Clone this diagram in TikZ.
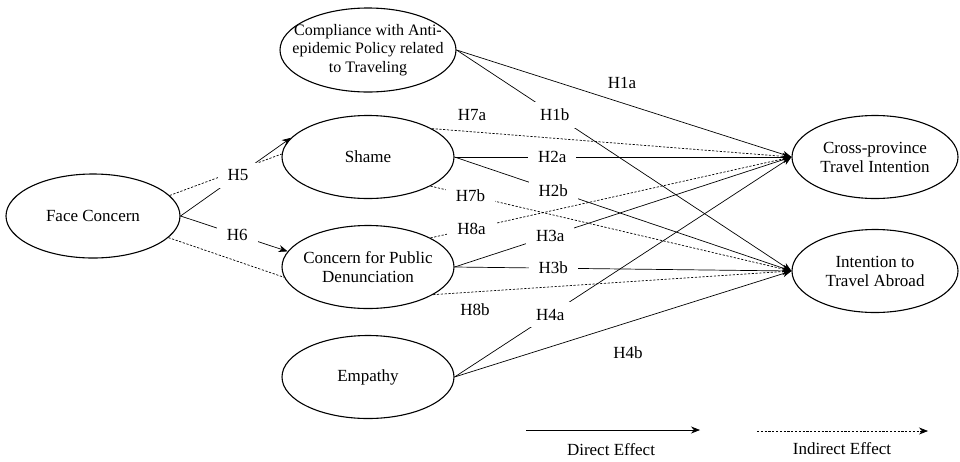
\documentclass[tikz,border=0pt]{standalone}
\usepackage{fontspec}
\setmainfont{Liberation Serif}
\usetikzlibrary{shapes.geometric,arrows.meta}
\newcommand\lfs{\fontsize{17}{19}\selectfont}
\newcommand\sfs{\fontsize{16}{18.5}\selectfont}
\begin{document}
\begin{tikzpicture}[x=1pt,y=-1pt,
 lat/.style={draw, ellipse, line width=1.1pt, minimum width=172pt, minimum height=83pt, inner sep=0pt},
 txt/.style={align=center, font=\lfs, inner sep=0pt},
 hyp/.style={font=\lfs, inner sep=0pt},
 gap/.style={font=\lfs, fill=white, inner xsep=10pt, inner ysep=7pt},
 direct/.style={line width=0.7pt, -{Stealth[length=9pt,width=7pt]}},
 indirect/.style={line width=0.7pt, dash pattern=on 2.2pt off 1.6pt},
 indarrow/.style={indirect, -{Stealth[length=9pt,width=7pt]}}]
\useasboundingbox (0,0) rectangle (960,461);

% latent variables
\node[lat, minimum width=174pt, minimum height=84pt] (fc) at (93,216) {};
\node[txt] (fct) at (fc) {Face Concern};
\node[lat, minimum width=176pt, minimum height=84pt] (comp) at (368,50) {};
\node[txt, font=\sfs] (compt) at (comp) {Compliance with Anti-\\epidemic Policy related\\to Traveling};
\node[lat] (shame) at (368,157) {};
\node[txt] (shamet) at (shame) {Shame};
\node[lat] (cpd) at (368,267) {};
\node[txt] (cpdt) at (cpd) {Concern for Public\\Denunciation};
\node[lat] (emp) at (368,377) {};
\node[txt] (empt) at (emp) {Empathy};
\node[lat, minimum width=166pt] (cross) at (875,157) {};
\node[txt] (crosst) at (cross) {Cross-province\\Travel Intention};
\node[lat, minimum width=166pt] (intent) at (875,271) {};
\node[txt] (intentt) at (intent) {Intention to\\Travel Abroad};

% Face concern
\draw[indirect] (fc.15) -- (shame.178);
\draw[indirect] (fc.-16) -- (cpd.187);
\draw[direct] (fc.east) -- node[gap,pos=0.52] (h5) {H5} (shame.166);
\draw[direct] (fc.east) -- node[gap,pos=0.53] (h6) {H6} (cpd.169);

% Compliance
\draw[direct] (comp.east) -- (cross.west);
\node[hyp] (h1a) at (622,83) {H1a};
\draw[direct] (comp.east) -- node[gap,pos=0.293] (h1b) {H1b} (intent.west);

% Shame
\draw[direct] (shame.east) -- node[gap,pos=0.29] (h2a) {H2a} (cross.west);
\draw[direct] (shame.east) -- node[gap,pos=0.293] (h2b) {H2b} (intent.west);
\draw[indarrow] (shame.24) -- (cross.west);
\node[hyp] (h7a) at (472,115) {H7a};
\draw[indarrow] (shame.-25) -- node[gap,pos=0.111] (h7b) {H7b} (intent.west);

% Concern for public denunciation
\draw[indarrow] (cpd.25) -- node[gap,pos=0.114] (h8a) {H8a} (cross.west);
\draw[direct] (cpd.east) -- node[gap,pos=0.284] (h3a) {H3a} (cross.west);
\draw[direct] (cpd.east) -- node[gap,pos=0.293] (h3b) {H3b} (intent.west);
\draw[indarrow] (cpd.-23) -- (intent.west);
\node[hyp] (h8b) at (475,310) {H8b};

% Empathy
\draw[direct] (emp.east) -- node[gap,pos=0.284] (h4a) {H4a} (cross.west);
\draw[direct] (emp.east) -- (intent.west);
\node[hyp] (h4b) at (628,353) {H4b};

% legend
\coordinate (d1) at (526,430);
\coordinate (d2) at (700,430);
\draw[direct] (d1) -- (d2);
\node[hyp] (dtxt) at (611,450) {Direct Effect};
\coordinate (i1) at (757,431);
\coordinate (i2) at (928,431);
\draw[indarrow] (i1) -- (i2);
\node[hyp] (itxt) at (842,449) {Indirect Effect};
\end{tikzpicture}
\end{document}
